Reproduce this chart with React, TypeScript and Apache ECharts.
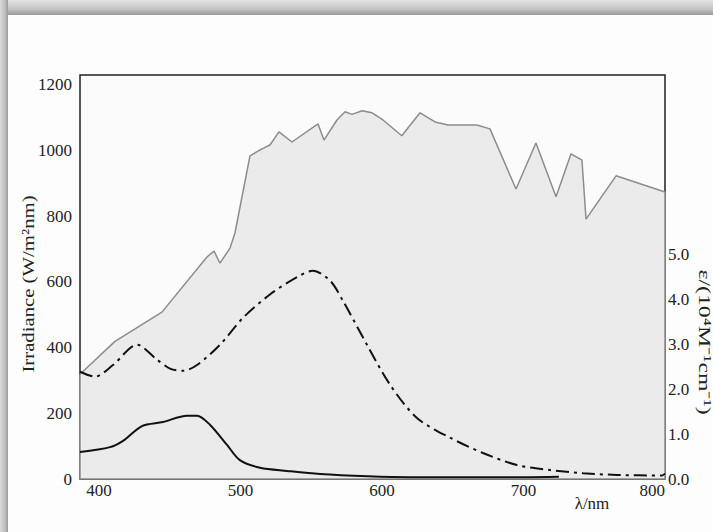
import React, { useEffect, useRef } from "react";
import * as echarts from "echarts";

// Irradiance (gray filled polyline), left axis W/m2nm
const irrWavelength = [386.6, 411.3, 444.5, 476.3, 481.3, 485.5, 492.6, 496.1, 506.7, 515.2, 520.8, 527.2, 536.4, 554.8, 559, 568.2, 573.9, 578.8, 586, 593, 600.7, 614, 626.9, 637.5, 646.6, 667, 676.3, 694.7, 708.8, 723, 733.6, 741.3, 744.2, 765.4, 800];
const irradiance = [319, 419, 508, 676, 694, 657, 703, 749, 984, 1005, 1017, 1057, 1026, 1081, 1032, 1093, 1118, 1110, 1121, 1115, 1093, 1045, 1115, 1087, 1078, 1078, 1066, 883, 1023, 859, 990, 971, 791, 923, 874];

// Dash-dot absorption curve, right axis epsilon / (10^4 M^-1 cm^-1)
const dashWavelength = [386.6, 397.2, 409.9, 426.9, 441.0, 450.2, 459.4, 469.3, 485.5, 501.8, 520.8, 540, 551.2, 563.3, 572.4, 589.4, 605.7, 624.7, 648.1, 671.4, 695.4, 718.7, 742.0, 766.1, 797.9, 800];
const dashEps = [2.39, 2.28, 2.54, 2.99, 2.66, 2.46, 2.41, 2.54, 2.99, 3.59, 4.11, 4.5, 4.64, 4.42, 3.97, 2.99, 2.10, 1.36, 0.92, 0.58, 0.31, 0.20, 0.13, 0.09, 0.08, 0.12];

// Solid absorption curve, right axis
const solidWavelength = [386.6, 407.8, 417, 430.4, 445.2, 462.2, 469.3, 478.4, 490.5, 499.6, 513.8, 532.9, 556.2, 590, 620, 660, 700, 725];
const solidEps = [0.60, 0.71, 0.85, 1.18, 1.27, 1.41, 1.41, 1.21, 0.76, 0.42, 0.25, 0.18, 0.11, 0.06, 0.04, 0.04, 0.04, 0.05];

const xTicks = [400, 500, 600, 700, 800];
const leftTicks = [0, 200, 400, 600, 800, 1000, 1200];
const rightTicks = [0, 1, 2, 3, 4, 5];

const X_MIN = 386.6;
const X_MAX = 800;
const LEFT_MAX = 1230;
const RIGHT_MAX = 9;

const FONT = "Liberation Serif";
const FS = 17;

export default function App() {
  const ref = useRef<HTMLDivElement>(null);
  useEffect(() => {
    document.body.style.margin = "0";
    const chart = echarts.init(ref.current!, null, { renderer: "svg" });
    const pair = (xs: number[], ys: number[]) => xs.map((x, i) => [x, ys[i]]);
    const edgeGray = "#8c8c8c";
    const first = irrWavelength[0];
    const last = irrWavelength[irrWavelength.length - 1];
    chart.setOption({
      animation: false,
      backgroundColor: "#fdfdfd",
      grid: {
        left: 80,
        right: 48,
        top: 75,
        bottom: 53,
        show: true,
        backgroundColor: "#fbfbfb",
        borderColor: "#222",
        borderWidth: 1.5,
      },
      xAxis: {
        type: "value",
        min: X_MIN,
        max: X_MAX,
        splitLine: { show: false },
        axisLine: { show: false },
        axisTick: { show: false },
        axisLabel: {
          margin: 3,
          fontFamily: FONT,
          fontSize: FS,
          color: "#222",
          alignMaxLabel: "right",
          formatter: (v: number) => (xTicks.includes(Math.round(v * 1000) / 1000) ? String(v) : ""),
        },
      },
      yAxis: [
        {
          type: "value",
          min: 0,
          max: LEFT_MAX,
          interval: 200,
          splitLine: { show: false },
          axisLine: { show: false },
          axisTick: { show: false },
          axisLabel: {
            margin: 8,
            fontFamily: FONT,
            fontSize: FS,
            color: "#222",
            formatter: (v: number) => (leftTicks.includes(v) ? String(v) : ""),
          },
        },
        {
          type: "value",
          min: 0,
          max: RIGHT_MAX,
          interval: 1,
          position: "right",
          splitLine: { show: false },
          axisLine: { show: false },
          axisTick: { show: false },
          axisLabel: {
            margin: 3,
            fontFamily: FONT,
            fontSize: FS,
            color: "#222",
            formatter: (v: number) => (rightTicks.includes(v) ? v.toFixed(1) : ""),
          },
        },
      ],
      graphic: [
        {
          type: "rect",
          shape: { x: 0, y: 0, width: 713, height: 15 },
          style: {
            fill: new echarts.graphic.LinearGradient(0, 0, 0, 1, [
              { offset: 0, color: "#e2e2e2" },
              { offset: 0.6, color: "#c4c4c4" },
              { offset: 1, color: "#9a9a9a" },
            ]),
          },
          z: 100,
        },
        {
          type: "rect",
          shape: { x: 0, y: 0, width: 8, height: 532 },
          style: {
            fill: new echarts.graphic.LinearGradient(0, 0, 1, 0, [
              { offset: 0, color: "#dadada" },
              { offset: 0.6, color: "#c0c0c0" },
              { offset: 1, color: "#9a9a9a" },
            ]),
          },
          z: 100,
        },
        {
          type: "text",
          x: 28,
          y: 284,
          rotation: Math.PI / 2,
          scaleX: 1.22,
          style: {
            text: "Irradiance (W/m²nm)",
            fontFamily: FONT,
            fontSize: FS,
            fill: "#222",
            align: "center",
            verticalAlign: "middle",
          },
        },
        {
          type: "text",
          x: 705,
          y: 342,
          rotation: -Math.PI / 2,
          scaleX: 1.4,
          style: {
            text: "ε/(10⁴M⁻¹cm⁻¹)",
            fontFamily: FONT,
            fontSize: FS,
            fill: "#222",
            align: "center",
            verticalAlign: "middle",
          },
        },
        {
          type: "text",
          x: 592,
          y: 503,
          style: {
            text: "λ/nm",
            fontFamily: FONT,
            fontSize: FS,
            fill: "#222",
            align: "center",
            verticalAlign: "middle",
          },
        },
      ],
      series: [
        {
          type: "line",
          yAxisIndex: 0,
          data: pair(irrWavelength, irradiance),
          symbol: "none",
          lineStyle: { color: edgeGray, width: 1.5 },
          areaStyle: { color: "#ebebeb", opacity: 1 },
          z: 1,
        },
        {
          type: "line",
          yAxisIndex: 0,
          data: [[first, 0], [first, irradiance[0]]],
          symbol: "none",
          lineStyle: { color: edgeGray, width: 1.5 },
          z: 2,
        },
        {
          type: "line",
          yAxisIndex: 0,
          data: [[last, 0], [last, irradiance[irradiance.length - 1]]],
          symbol: "none",
          lineStyle: { color: edgeGray, width: 1.5 },
          z: 2,
        },
        {
          type: "line",
          yAxisIndex: 0,
          data: [[first, 0], [last, 0]],
          symbol: "none",
          lineStyle: { color: edgeGray, width: 1.5 },
          z: 2,
        },
        {
          type: "line",
          yAxisIndex: 1,
          data: pair(dashWavelength, dashEps),
          symbol: "none",
          smooth: 0.3,
          lineStyle: { color: "#111", width: 2, type: [13, 5, 3, 5] },
          z: 3,
        },
        {
          type: "line",
          yAxisIndex: 1,
          data: pair(solidWavelength, solidEps),
          symbol: "none",
          smooth: 0.3,
          lineStyle: { color: "#111", width: 2 },
          z: 3,
        },
      ],
    });
    return () => chart.dispose();
  }, []);
  return <div ref={ref} style={{ width: 713, height: 532 }} />;
}
